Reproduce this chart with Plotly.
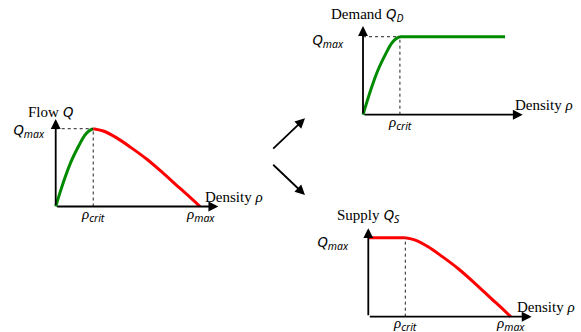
import plotly.graph_objects as go

W, H = 581, 332

# fundamental diagram, densities normalised by rho_max, flows by Q_max
RHO_CRIT = 0.26
RHO_MAX = 1.0
Q_MAX = 1.0

# free-flow branch (green)
rho_free = [0.0, 0.055, 0.105, 0.16, 0.20, 0.23, 0.26]
q_free = [0.0, 0.32, 0.57, 0.78, 0.91, 0.97, 1.0]

# congested branch (red)
rho_cong = [0.26, 0.33, 0.42, 0.52, 0.63, 0.75, 0.86, 0.93, 1.0]
q_cong = [1.0, 0.97, 0.885, 0.76, 0.61, 0.42, 0.235, 0.12, 0.0]

GREEN = "#008a00"
RED = "#ff0000"
SERIF = "Liberation Serif"
SANS = "Noto Sans"

# panel geometry in pixels: origin, px per unit, axis arrow length (units)
panels = {
    "fd":     dict(ox=55.7, oy=206.5, ux=144.3, uy=77.8, ext_x=1.127, ext_y=1.125),
    "demand": dict(ox=363.0, oy=114.7, ux=142.0, uy=78.0, ext_x=1.125, ext_y=1.137),
    "supply": dict(ox=368.3, oy=316.7, ux=142.4, uy=79.0, ext_x=1.147, ext_y=1.12),
}
LO = -0.06


def px(x, y):
    return x / W, 1 - y / H


def math_sans(s):
    return f'<span style="font-family:{SANS}"><i>{s}</i></span>'


Q_MAX_TXT = math_sans("Q<sub>max</sub>")
RHO_CRIT_TXT = '<i>ρ</i>' + math_sans("<sub>crit</sub>")
RHO_MAX_TXT = '<i>ρ</i>' + math_sans("<sub>max</sub>")
DENSITY_TXT = "Density <i>ρ</i>"

fig = go.Figure()
layout = dict(
    width=W, height=H,
    margin=dict(l=0, r=0, t=0, b=0),
    paper_bgcolor="white", plot_bgcolor="white",
    showlegend=False,
)
annotations = []
shapes = []
dash = dict(color="#222", width=1, dash="3px,3px")

for i, (name, p) in enumerate(panels.items(), start=1):
    sfx = "" if i == 1 else str(i)
    xa, ya = "x" + sfx, "y" + sfx
    layout["xaxis" + sfx] = dict(
        domain=[(p["ox"] + LO * p["ux"]) / W, (p["ox"] + p["ext_x"] * p["ux"]) / W],
        range=[LO, p["ext_x"]], visible=False, anchor=ya, fixedrange=True,
    )
    layout["yaxis" + sfx] = dict(
        domain=[1 - (p["oy"] - LO * p["uy"]) / H, 1 - (p["oy"] - p["ext_y"] * p["uy"]) / H],
        range=[LO, p["ext_y"]], visible=False, anchor=xa, fixedrange=True,
    )
    p["xa"], p["ya"] = xa, ya

    # axis arrows
    for hx, hy in [(p["ext_x"], 0), (0, p["ext_y"])]:
        annotations.append(dict(
            x=hx, y=hy, ax=0, ay=0, xref=xa, yref=ya, axref=xa, ayref=ya,
            text="", showarrow=True, arrowhead=2, arrowsize=1.1, arrowwidth=1.8,
            arrowcolor="black", standoff=0,
        ))

    # dashed guides
    shapes.append(dict(type="line", xref=xa, yref=ya, x0=RHO_CRIT, x1=RHO_CRIT,
                       y0=0, y1=Q_MAX, line=dash))
    if name != "supply":
        shapes.append(dict(type="line", xref=xa, yref=ya, x0=0, x1=RHO_CRIT,
                           y0=Q_MAX, y1=Q_MAX, line=dash))

curve = dict(mode="lines", line_shape="spline", hoverinfo="skip")
flat = dict(mode="lines", hoverinfo="skip")

# left: full fundamental diagram
fd = panels["fd"]
fig.add_trace(go.Scatter(x=rho_free, y=q_free, xaxis=fd["xa"], yaxis=fd["ya"],
                         line=dict(color=GREEN, width=3), **curve))
fig.add_trace(go.Scatter(x=rho_cong, y=q_cong, xaxis=fd["xa"], yaxis=fd["ya"],
                         line=dict(color=RED, width=3), **curve))

# demand: free branch then plateau at Q_max
dm = panels["demand"]
fig.add_trace(go.Scatter(x=rho_free, y=q_free, xaxis=dm["xa"], yaxis=dm["ya"],
                         line=dict(color=GREEN, width=3), **curve))
fig.add_trace(go.Scatter(x=[RHO_CRIT, RHO_MAX], y=[Q_MAX, Q_MAX], xaxis=dm["xa"], yaxis=dm["ya"],
                         line=dict(color=GREEN, width=3), **flat))

# supply: plateau at Q_max then congested branch
sp = panels["supply"]
fig.add_trace(go.Scatter(x=[0.0, RHO_CRIT], y=[Q_MAX, Q_MAX], xaxis=sp["xa"], yaxis=sp["ya"],
                         line=dict(color=RED, width=3), **flat))
fig.add_trace(go.Scatter(x=rho_cong, y=q_cong, xaxis=sp["xa"], yaxis=sp["ya"],
                         line=dict(color=RED, width=3), **curve))

# tick-like labels
qmax_shift = {"fd": (-9, -1.5), "demand": (-17, -3), "supply": (-17, -4.5)}
low_shift = {"fd": -9, "demand": -9, "supply": -7.5}
for name, p in panels.items():
    dx, dy = qmax_shift[name]
    annotations.append(dict(x=0, y=Q_MAX, xref=p["xa"], yref=p["ya"], text=Q_MAX_TXT,
                            showarrow=False, xanchor="right", yanchor="middle",
                            xshift=dx, yshift=dy, font=dict(size=15)))
    annotations.append(dict(x=RHO_CRIT, y=0, xref=p["xa"], yref=p["ya"], text=RHO_CRIT_TXT,
                            showarrow=False, xanchor="center", yanchor="middle",
                            yshift=low_shift[name], font=dict(size=15)))
    if name != "demand":
        annotations.append(dict(x=RHO_MAX, y=0, xref=p["xa"], yref=p["ya"], text=RHO_MAX_TXT,
                                showarrow=False, xanchor="center", yanchor="middle",
                                yshift=low_shift[name], font=dict(size=15)))

# axis titles (pixel positions from the reference)
titles = [
    ("Flow " + math_sans("Q"), 51, 111.5, "center"),
    (DENSITY_TXT, 203, 197, "left"),
    ("Demand " + math_sans("Q<sub>D</sub>"), 366.5, 14, "center"),
    (DENSITY_TXT, 513, 105, "left"),
    ("Supply " + math_sans("Q<sub>S</sub>"), 368.5, 215, "center"),
    (DENSITY_TXT, 515, 307, "left"),
]
for txt, x, y, anc in titles:
    xp, yp = px(x, y)
    annotations.append(dict(x=xp, y=yp, xref="paper", yref="paper", text=txt,
                            showarrow=False, xanchor=anc, yanchor="middle",
                            font=dict(size=15)))

# arrows from the fundamental diagram to demand / supply
for (tx, ty), (hx, hy) in [((271.7, 150), (305, 118.3)), ((271.7, 163.3), (305, 195))]:
    xp, yp = px(hx, hy)
    annotations.append(dict(x=xp, y=yp, xref="paper", yref="paper", text="",
                            showarrow=True, ax=tx - hx, ay=ty - hy,
                            arrowhead=2, arrowsize=1.1, arrowwidth=1.8,
                            arrowcolor="black", standoff=0))

layout["annotations"] = annotations
layout["shapes"] = shapes
layout["font"] = dict(family=SERIF, color="black", size=15)
fig.update_layout(**layout)

fig.write_html("out.html", config={"displayModeBar": False},
               post_script="document.body.style.margin='0';")
